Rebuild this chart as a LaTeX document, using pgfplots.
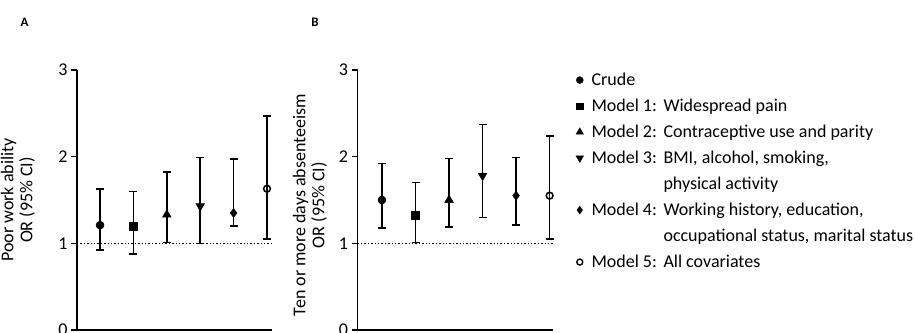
\documentclass[border=0pt]{standalone}
\usepackage{pgfplots}
\pgfplotsset{compat=1.18}
\usepackage{fontspec}
\setmainfont{Carlito}
\begin{document}
\begin{tikzpicture}
\useasboundingbox (0pt,0pt) rectangle (915pt,332pt);
\pgfplotsset{
  myax/.style={
    scale only axis, width=195pt, height=260pt,
    anchor=south west,
    ymin=0, ymax=3,
    axis x line*=bottom, axis y line*=left,
    axis line style={line width=1.6pt, -},
    xtick=\empty, ytick={0,1,2,3},
    tick align=outside, major tick length=6pt,
    ytick style={line width=1.6pt, black},
    /pgf/number format/assume math mode=true,
    yticklabel style={font=\fontsize{18}{18}\selectfont},
    clip=false,
    every axis y label/.style={rotate=90, anchor=center, align=center,
       font=\fontsize{18}{19}\selectfont},
  },
  eb/.style={black, only marks, line width=1.6pt,
    error bars/y dir=both, error bars/y explicit,
    error bars/error bar style={line width=1.6pt, solid},
    error bars/error mark options={rotate=90, mark size=4pt, line width=1.6pt}},
}
\begin{axis}[myax, at={(77pt,2pt)}, xmin=0.31, xmax=6.15,
  ylabel={Poor work ability\\OR (95\% CI)},
  ylabel style={at={(axis description cs:-0.303,0.5)}}]
\addplot[black, dotted, line width=1.4pt] coordinates {(0.31,1) (6.15,1)};
\addplot[eb, mark=*, mark size=4pt, mark options={line width=0.5pt}] coordinates {(1,1.21) += (0,0.42) -= (0,0.29)};
\addplot[eb, mark=square*, mark size=4pt, mark options={line width=0.5pt}] coordinates {(2,1.20) += (0,0.40) -= (0,0.32)};
\addplot[eb, mark=triangle*, mark size=5pt, mark options={line width=0.5pt}] coordinates {(3,1.33) += (0,0.49) -= (0,0.32)};
\addplot[eb, mark=triangle*, mark size=5pt, mark options={rotate=180, line width=0.5pt}] coordinates {(4,1.43) += (0,0.56) -= (0,0.43)};
\addplot[eb, mark=diamond*, mark size=4.5pt, mark options={line width=0.5pt}] coordinates {(5,1.35) += (0,0.62) -= (0,0.15)};
\addplot[eb, mark=o, mark size=3.4pt, mark options={fill=white, line width=1.5pt}] coordinates {(6,1.63) += (0,0.84) -= (0,0.58)};
\end{axis}
\begin{axis}[myax, at={(357.5pt,2pt)}, width=195.5pt, xmin=0.27, xmax=6.1,
  ylabel={Ten or more days absenteeism\\OR (95\% CI)},
  ylabel style={at={(axis description cs:-0.243,0.48)}},
  legend style={draw=none, fill=none, inner sep=0pt, outer sep=0pt,
    at={(axis description cs:1.118,0.994)}, anchor=north west,
    row sep=9pt, column sep=8pt,
    nodes={inner sep=0pt, text height=14.3pt, text depth=2.7pt,
      font=\fontsize{18}{19}\selectfont}},
  legend cell align=left,
  legend image code/.code={\draw[#1] plot coordinates {(0pt,0pt)};},
  ]
\addplot[black, dotted, line width=1.4pt, forget plot] coordinates {(0.27,1) (6.1,1)};
\addplot[eb, forget plot, mark=*, mark size=4pt, mark options={line width=0.5pt}] coordinates {(1,1.50) += (0,0.42) -= (0,0.32)};
\addplot[eb, forget plot, mark=square*, mark size=4pt, mark options={line width=0.5pt}] coordinates {(2,1.32) += (0,0.38) -= (0,0.31)};
\addplot[eb, forget plot, mark=triangle*, mark size=5pt, mark options={line width=0.5pt}] coordinates {(3,1.50) += (0,0.48) -= (0,0.31)};
\addplot[eb, forget plot, mark=triangle*, mark size=5pt, mark options={rotate=180, line width=0.5pt}] coordinates {(4,1.78) += (0,0.59) -= (0,0.48)};
\addplot[eb, forget plot, mark=diamond*, mark size=4.5pt, mark options={line width=0.5pt}] coordinates {(5,1.55) += (0,0.44) -= (0,0.34)};
\addplot[eb, forget plot, mark=o, mark size=3.4pt, mark options={fill=white, line width=1.5pt}] coordinates {(6,1.55) += (0,0.69) -= (0,0.50)};
\addlegendimage{only marks, black, mark=*, mark size=3.5pt}
\addlegendentry{Crude}
\addlegendimage{only marks, black, mark=square*, mark size=3.3pt}
\addlegendentry{\makebox[72pt][l]{Model 1:}Widespread pain}
\addlegendimage{only marks, black, mark=triangle*, mark size=4.3pt}
\addlegendentry{\makebox[72pt][l]{Model 2:}Contraceptive use and parity}
\addlegendimage{only marks, black, mark=triangle*, mark size=4.3pt, mark options={rotate=180}}
\addlegendentry{\makebox[72pt][l]{Model 3:}BMI, alcohol, smoking,}
\addlegendimage{empty legend}
\addlegendentry{\hspace*{72pt}physical activity}
\addlegendimage{only marks, black, mark=diamond*, mark size=3.8pt}
\addlegendentry{\makebox[72pt][l]{Model 4:}Working history, education,}
\addlegendimage{empty legend}
\addlegendentry{\hspace*{72pt}occupational status, marital status}
\addlegendimage{only marks, black, mark=o, mark size=3pt, mark options={line width=1.4pt}}
\addlegendentry{\makebox[72pt][l]{Model 5:}All covariates}
\end{axis}
\node[font=\fontsize{13}{13}\selectfont\bfseries] at (24.5pt,309.5pt) {A};
\node[font=\fontsize{13}{13}\selectfont\bfseries] at (315pt,309.5pt) {B};
\end{tikzpicture}
\end{document}
